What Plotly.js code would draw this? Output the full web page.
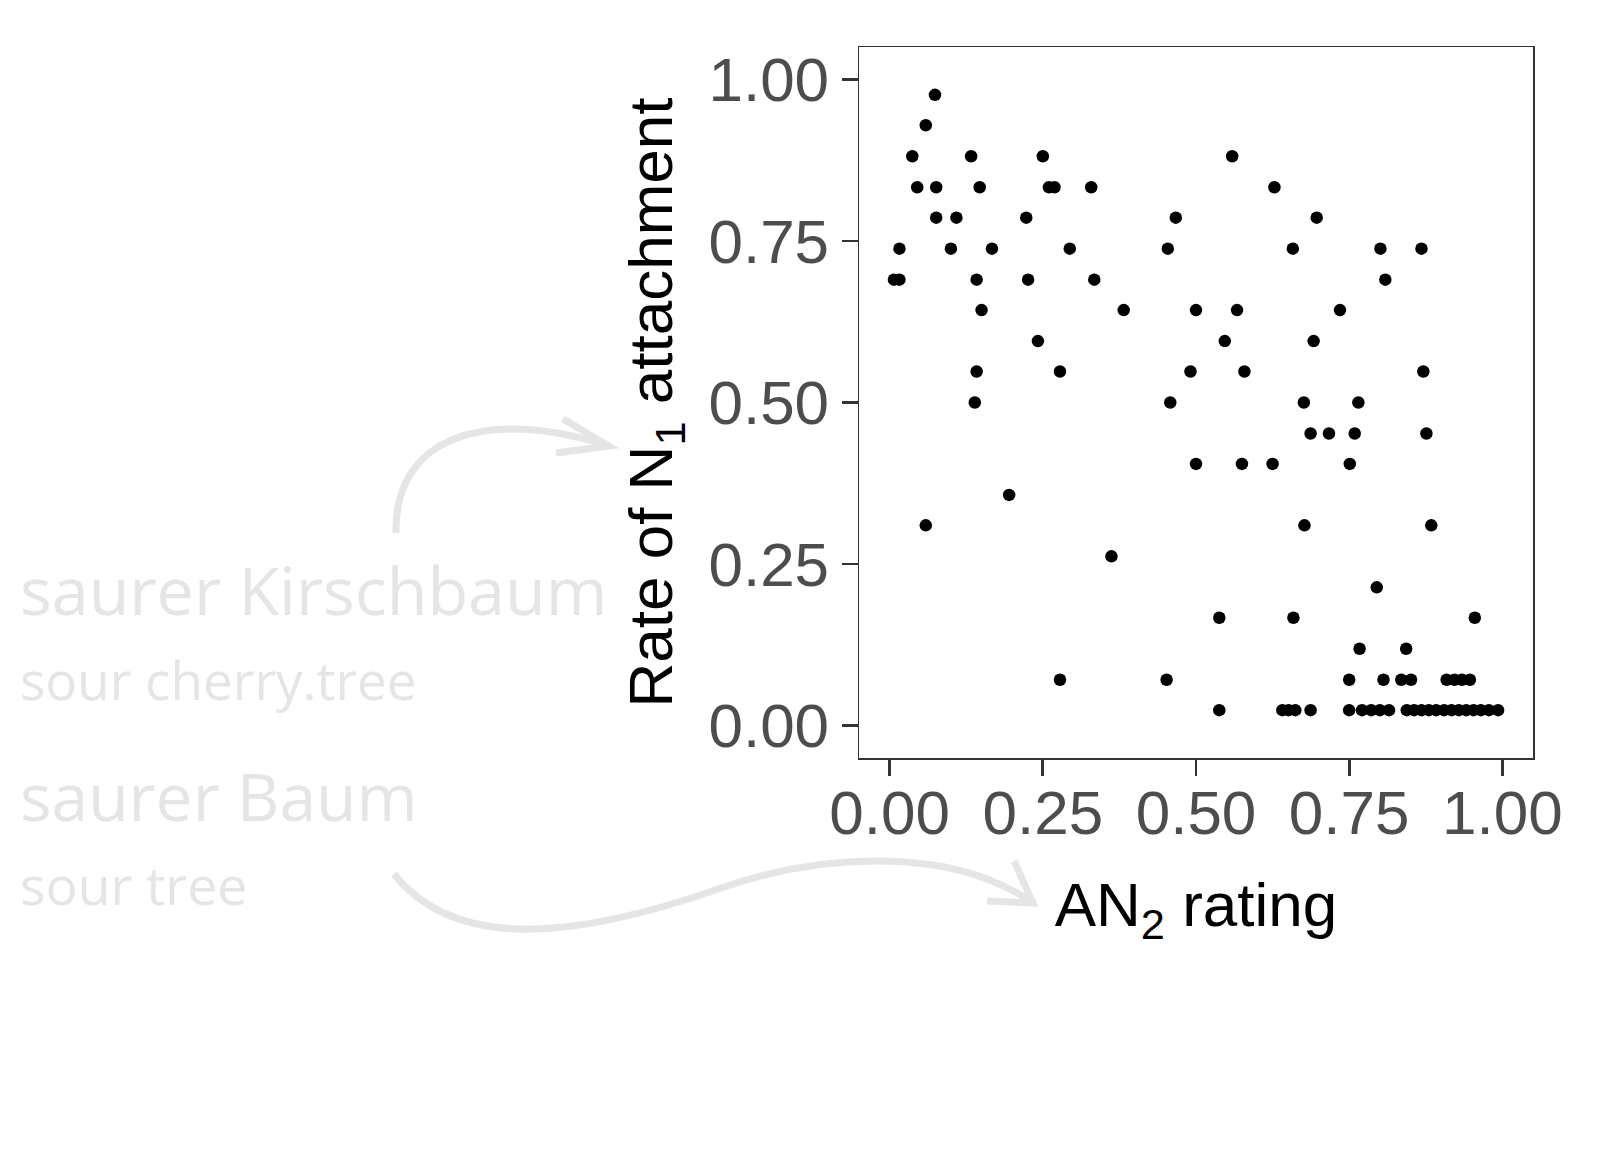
<!DOCTYPE html>
<html>
<head>
<meta charset="utf-8">
<script src="https://cdn.plot.ly/plotly-3.0.1.min.js"></script>
<style>html,body{margin:0;padding:0;background:#fff;}#chart{width:1615px;height:1158px;}</style>
</head>
<body>
<div id="chart"></div>
<script>
// AN2 rating (x) and rate of N1 attachment (y), one entry per item
var an2Rating = [
  0.074,
  0.059,
  0.037, 0.133, 0.250, 0.559,
  0.045, 0.076, 0.147, 0.260, 0.269, 0.329, 0.628,
  0.076, 0.109, 0.223, 0.467, 0.697,
  0.016, 0.100, 0.167, 0.294, 0.454, 0.658, 0.801, 0.868,
  0.007, 0.016, 0.142, 0.226, 0.334, 0.809,
  0.150, 0.382, 0.500, 0.567, 0.735,
  0.242, 0.547, 0.692,
  0.142, 0.278, 0.491, 0.579, 0.871,
  0.139, 0.458, 0.676, 0.765,
  0.687, 0.717, 0.759, 0.876,
  0.500, 0.575, 0.625, 0.751,
  0.195,
  0.059, 0.677, 0.884,
  0.362,
  0.795,
  0.538, 0.659, 0.955,
  0.767, 0.843,
  0.278, 0.452, 0.750, 0.806, 0.835, 0.851, 0.909, 0.922, 0.934, 0.947,
  0.538, 0.641, 0.651, 0.662, 0.687, 0.750, 0.771, 0.786, 0.800, 0.815,
  0.844, 0.856, 0.868, 0.880, 0.892, 0.905, 0.917, 0.929, 0.941, 0.953, 0.965, 0.978, 0.993
];
var n1Rate = [
  0.976,
  0.929,
  0.881, 0.881, 0.881, 0.881,
  0.833, 0.833, 0.833, 0.833, 0.833, 0.833, 0.833,
  0.786, 0.786, 0.786, 0.786, 0.786,
  0.738, 0.738, 0.738, 0.738, 0.738, 0.738, 0.738, 0.738,
  0.690, 0.690, 0.690, 0.690, 0.690, 0.690,
  0.643, 0.643, 0.643, 0.643, 0.643,
  0.595, 0.595, 0.595,
  0.548, 0.548, 0.548, 0.548, 0.548,
  0.500, 0.500, 0.500, 0.500,
  0.452, 0.452, 0.452, 0.452,
  0.405, 0.405, 0.405, 0.405,
  0.357,
  0.310, 0.310, 0.310,
  0.262,
  0.214,
  0.167, 0.167, 0.167,
  0.119, 0.119,
  0.071, 0.071, 0.071, 0.071, 0.071, 0.071, 0.071, 0.071, 0.071, 0.071,
  0.024, 0.024, 0.024, 0.024, 0.024, 0.024, 0.024, 0.024, 0.024, 0.024,
  0.024, 0.024, 0.024, 0.024, 0.024, 0.024, 0.024, 0.024, 0.024, 0.024, 0.024, 0.024, 0.024
];
var tickValues = [0, 0.25, 0.5, 0.75, 1];
var tickLabels = ['0.00', '0.25', '0.50', '0.75', '1.00'];
var xTitle = 'AN<sub>2</sub> rating';
var yTitle = 'Rate of N<sub>1</sub> attachment';
var glossTexts = ['saurer Kirschbaum', 'sour cherry.tree', 'saurer Baum', 'sour tree'];

// ---- layout geometry (pixels) ----
var W = 1615, H = 1158;
var M = {l: 859, r: 82, t: 47, b: 400};
var PW = W - M.l - M.r, PH = H - M.t - M.b;
function px(x) { return (x - M.l) / PW; }
function py(y) { return (H - M.b - y) / PH; }
function pathPx(pts) {
  return pts.map(function (p) {
    if (typeof p === 'string') return p;
    return px(p[0]).toFixed(5) + ',' + py(p[1]).toFixed(5);
  }).join(' ');
}

var axisFont = 'Liberation Sans, Arial, Helvetica, sans-serif';
var glossFont = 'Open Sans, Noto Sans, sans-serif';
var arrowColor = '#e5e5e5';
var textColor = '#e5e5e5';

var trace = {
  type: 'scatter',
  mode: 'markers',
  x: an2Rating,
  y: n1Rate,
  marker: {color: '#000000', size: 12.5, line: {width: 0}},
  hoverinfo: 'x+y'
};

var commonAxis = {
  range: [-0.05, 1.05],
  tickmode: 'array',
  tickvals: tickValues,
  ticktext: tickLabels,
  ticks: 'outside',
  ticklen: 16,
  tickwidth: 2.7,
  tickcolor: '#333333',
  showgrid: false,
  zeroline: false,
  showline: true,
  mirror: true,
  linecolor: '#333333',
  linewidth: 1.5,
  tickfont: {family: axisFont, size: 62, color: '#4d4d4d'},
  automargin: false,
  fixedrange: true
};

var layout = {
  width: W, height: H,
  margin: {l: M.l, r: M.r, t: M.t, b: M.b, pad: 0},
  paper_bgcolor: '#ffffff',
  plot_bgcolor: '#ffffff',
  showlegend: false,
  xaxis: Object.assign({}, commonAxis, {
    ticklabelstandoff: -16,
    title: {text: xTitle, font: {family: axisFont, size: 62, color: '#000000'}, standoff: 36}
  }),
  yaxis: Object.assign({}, commonAxis, {
    title: {text: yTitle, font: {family: axisFont, size: 62, color: '#000000'}, standoff: 15}
  }),
  shapes: [
    {type: 'path', xref: 'paper', yref: 'paper', layer: 'above',
     path: 'M' + pathPx([[396, 533], 'C', [394, 440], [480, 405], [610, 446]]),
     line: {color: arrowColor, width: 7}},
    {type: 'path', xref: 'paper', yref: 'paper', layer: 'above',
     path: 'M' + pathPx([[563, 419], 'L', [609, 446], 'L', [556, 453]]),
     line: {color: arrowColor, width: 7}},
    {type: 'path', xref: 'paper', yref: 'paper', layer: 'above',
     path: 'M' + pathPx([[394, 874], 'C', [450, 945], [560, 945], [721, 888], 'C', [818, 854], [950, 845], [1033, 903]]),
     line: {color: arrowColor, width: 7}},
    {type: 'path', xref: 'paper', yref: 'paper', layer: 'above',
     path: 'M' + pathPx([[1014, 861], 'L', [1033, 903], 'L', [987, 901]]),
     line: {color: arrowColor, width: 7}}
  ],
  annotations: [
    {text: glossTexts[0], x: px(18), y: py(589), xref: 'paper', yref: 'paper', xanchor: 'left', yanchor: 'middle', showarrow: false, font: {family: glossFont, size: 66.5, color: textColor}},
    {text: glossTexts[1], x: px(18), y: py(679), xref: 'paper', yref: 'paper', xanchor: 'left', yanchor: 'middle', showarrow: false, font: {family: glossFont, size: 53, color: textColor}},
    {text: glossTexts[2], x: px(18), y: py(795), xref: 'paper', yref: 'paper', xanchor: 'left', yanchor: 'middle', showarrow: false, font: {family: glossFont, size: 66, color: textColor}},
    {text: glossTexts[3], x: px(18), y: py(884), xref: 'paper', yref: 'paper', xanchor: 'left', yanchor: 'middle', showarrow: false, font: {family: glossFont, size: 53.5, color: textColor}}
  ]
};

Plotly.newPlot('chart', [trace], layout, {displayModeBar: false, staticPlot: true});
</script>
</body>
</html>
